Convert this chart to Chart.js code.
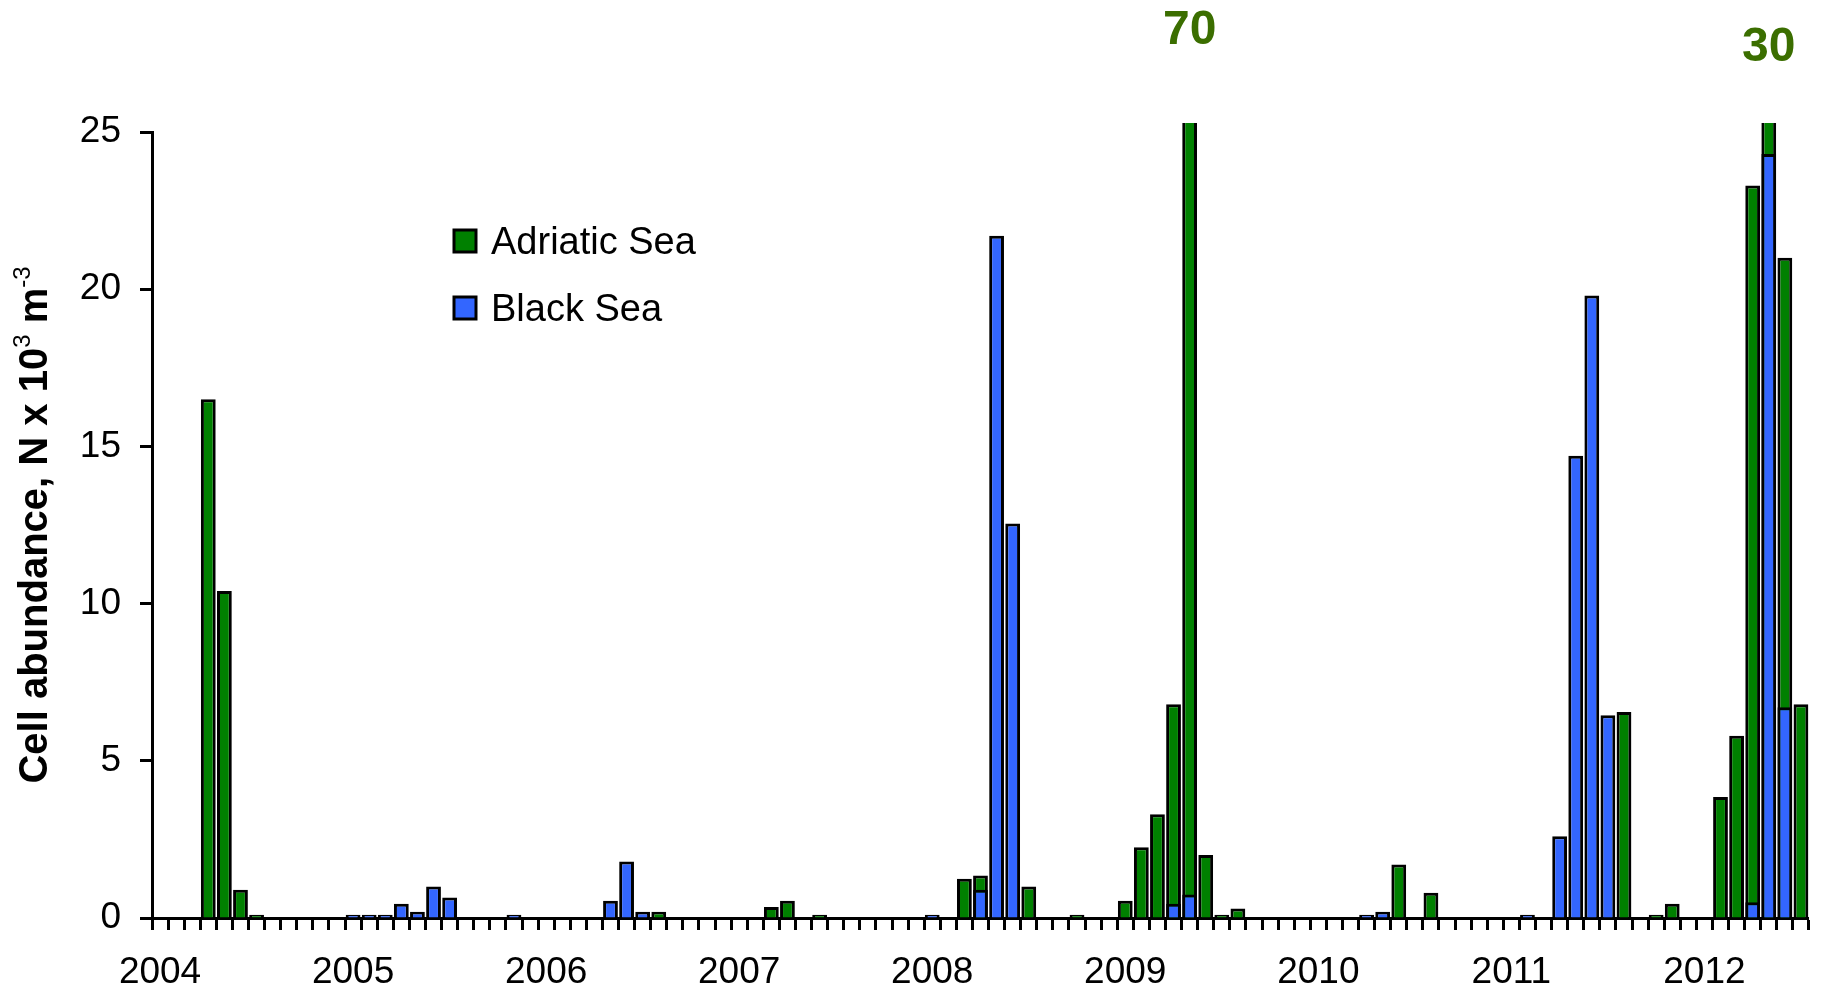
<!DOCTYPE html>
<html>
<head>
<meta charset="utf-8">
<title>Cell abundance, Adriatic Sea and Black Sea</title>
<script src="https://cdn.jsdelivr.net/npm/chart.js@4.4.1/dist/chart.umd.min.js"></script>
<style>
  html, body { margin: 0; padding: 0; background: #ffffff; }
  #wrap { width: 1822px; height: 996px; position: relative; }
  canvas { display: block; }
</style>
</head>
<body>
<div id="wrap"><canvas id="chart" width="1822" height="996"></canvas></div>
<script>
// Year tick labels; each year has monthly categories (2012 sampled Jan–Jul)
const yearLabels = ['2004', '2005', '2006', '2007', '2008', '2009', '2010', '2011', '2012'];
const monthsPerYear = [12, 12, 12, 12, 12, 12, 12, 12, 7];

// Monthly cell abundance, N x 10^3 m^-3 (null = no cells recorded)
//                   Jan   Feb   Mar   Apr   May   Jun   Jul   Aug   Sep   Oct   Nov   Dec
const adriatic2004 = [null, null, null, 16.5, 10.4, 0.9,  0.1,  null, null, null, null, null];
const adriatic2005 = [null, null, null, null, null, null, null, null, null, null, null, null];
const adriatic2006 = [null, null, null, null, null, null, null, 0.2,  null, null, null, null];
const adriatic2007 = [null, null, 0.35, 0.55, null, 0.1,  null, null, null, null, null, null];
const adriatic2008 = [null, null, 1.25, 1.35, null, null, 1.0,  null, null, 0.1,  null, null];
const adriatic2009 = [0.55, 2.25, 3.3,  6.8,  70,   2.0,  0.1,  0.3,  null, null, null, null];
const adriatic2010 = [null, null, null, null, null, 1.7,  null, 0.8,  null, null, null, null];
const adriatic2011 = [null, null, null, null, null, null, null, 6.55, null, 0.1,  0.45, null];
const adriatic2012 = [null, 3.85, 5.8,  23.3, 30,   21.0, 6.8];

const blackSea2004 = [null, null, null, null, null, null, null, null, null, null, null, null];
const blackSea2005 = [0.1,  0.1,  0.1,  0.45, 0.2,  1.0,  0.65, null, null, null, 0.1,  null];
const blackSea2006 = [null, null, null, null, 0.55, 1.8,  0.2,  null, null, null, null, null];
const blackSea2007 = [null, null, null, null, null, null, null, null, null, null, null, null];
const blackSea2008 = [0.1,  null, null, 0.9,  21.7, 12.55, null, null, null, null, null, null];
const blackSea2009 = [null, null, null, 0.45, 0.75, null, null, null, null, null, null, null];
const blackSea2010 = [null, null, null, 0.1,  0.2,  null, null, null, null, null, null, null];
const blackSea2011 = [null, 0.1,  null, 2.6,  14.7, 19.8, 6.45, null, null, null, null, null];
const blackSea2012 = [null, null, null, 0.5,  24.3, 6.7,  null];

const adriatic = [].concat(adriatic2004, adriatic2005, adriatic2006, adriatic2007, adriatic2008,
                           adriatic2009, adriatic2010, adriatic2011, adriatic2012);
const blackSea = [].concat(blackSea2004, blackSea2005, blackSea2006, blackSea2007, blackSea2008,
                           blackSea2009, blackSea2010, blackSea2011, blackSea2012);

// Month categories "YYYY-MM"
const months = [];
yearLabels.forEach((y, yi) => {
  for (let m = 1; m <= monthsPerYear[yi]; m++) months.push(y + '-' + String(m).padStart(2, '0'));
});

const FONT = '"Liberation Sans", Arial, Helvetica, sans-serif';
const GREEN = '#008000';
const BLUE = '#3366ff';
const VALUE_GREEN = '#3b6e00';
const Y_MAX = 25;

// Y axis title with superscript exponents
const yTitlePlugin = {
  id: 'yTitle',
  afterDraw(chart) {
    const ctx = chart.ctx;
    const area = chart.chartArea;
    const parts = [
      { t: 'Cell abundance, N x 10', sup: false },
      { t: '3', sup: true },
      { t: ' m', sup: false },
      { t: '-3', sup: true }
    ];
    const mainFont = 'bold 40px ' + FONT;
    const supFont = '24px ' + FONT;
    ctx.save();
    let total = 0;
    parts.forEach(p => {
      ctx.font = p.sup ? supFont : mainFont;
      p.w = ctx.measureText(p.t).width;
      total += p.w;
    });
    ctx.translate(47, (area.top + area.bottom) / 2);
    ctx.rotate(-Math.PI / 2);
    ctx.fillStyle = '#000';
    ctx.textBaseline = 'alphabetic';
    ctx.textAlign = 'left';
    let x = -total / 2;
    parts.forEach(p => {
      ctx.font = p.sup ? supFont : mainFont;
      ctx.fillText(p.t, x, p.sup ? -17 : 0);
      x += p.w;
    });
    ctx.restore();
  }
};

// Legend drawn inside the plot area
const insideLegendPlugin = {
  id: 'insideLegend',
  afterDraw(chart) {
    const ctx = chart.ctx;
    ctx.save();
    chart.data.datasets.forEach((ds, i) => {
      const top = 230 + i * 67;
      ctx.fillStyle = ds.backgroundColor;
      ctx.fillRect(454, top, 22, 22);
      ctx.lineWidth = 3;
      ctx.strokeStyle = '#000';
      ctx.strokeRect(454, top, 22, 22);
      ctx.fillStyle = '#000';
      ctx.font = '38px ' + FONT;
      ctx.textAlign = 'left';
      ctx.textBaseline = 'alphabetic';
      ctx.fillText(ds.label, 491, top + 24);
    });
    ctx.restore();
  }
};

// Values that run past the top of the axis are written above their bar
const overflowRise = { 64: 88, 100: 71 };
const overflowLabelPlugin = {
  id: 'overflowLabels',
  afterDraw(chart) {
    const ctx = chart.ctx;
    const meta = chart.getDatasetMeta(0);
    const data = chart.data.datasets[0].data;
    ctx.save();
    ctx.font = 'bold 48px ' + FONT;
    ctx.fillStyle = VALUE_GREEN;
    ctx.textAlign = 'center';
    ctx.textBaseline = 'alphabetic';
    data.forEach((v, i) => {
      if (v !== null && v > Y_MAX) {
        const bar = meta.data[i];
        const rise = overflowRise[i] !== undefined ? overflowRise[i] : 80;
        ctx.fillText(String(v), bar.x, chart.chartArea.top - rise);
      }
    });
    ctx.restore();
  }
};

const barStyle = {
  borderColor: '#000000',
  borderWidth: 3,
  grouped: false,
  barPercentage: 0.92,
  categoryPercentage: 1.0,
  clip: { left: false, right: false, top: 9, bottom: false }
};

new Chart(document.getElementById('chart'), {
  type: 'bar',
  data: {
    labels: months,
    datasets: [
      Object.assign({ label: 'Adriatic Sea', data: adriatic, backgroundColor: GREEN, order: 1 }, barStyle),
      Object.assign({ label: 'Black Sea', data: blackSea, backgroundColor: BLUE, order: 0 }, barStyle)
    ]
  },
  options: {
    responsive: false,
    devicePixelRatio: 1,
    animation: false,
    layout: { padding: { left: 0, right: 12, top: 132, bottom: 0 } },
    plugins: {
      legend: { display: false },
      tooltip: { enabled: false },
      title: { display: false }
    },
    scales: {
      x: {
        type: 'category',
        offset: true,
        grid: {
          offset: true,
          drawOnChartArea: false,
          drawTicks: true,
          tickLength: 12,
          tickWidth: 3,
          tickColor: '#000'
        },
        border: { display: true, color: '#000', width: 3 },
        ticks: {
          autoSkip: false,
          maxRotation: 0,
          minRotation: 0,
          padding: 21,
          color: '#000',
          font: { family: FONT, size: 37 },
          callback: (value, index) => (index % 12 === 0 ? yearLabels[index / 12] : '')
        },
        afterFit: scale => { scale.height = 78; }
      },
      y: {
        min: 0,
        max: Y_MAX,
        grid: {
          drawOnChartArea: false,
          drawTicks: true,
          tickLength: 12,
          tickWidth: 3,
          tickColor: '#000'
        },
        border: { display: true, color: '#000', width: 3 },
        ticks: {
          stepSize: 5,
          padding: 19,
          color: '#000',
          font: { family: FONT, size: 37 }
        },
        afterFit: scale => { scale.width = 152; }
      }
    }
  },
  plugins: [yTitlePlugin, insideLegendPlugin, overflowLabelPlugin]
});
</script>
</body>
</html>
